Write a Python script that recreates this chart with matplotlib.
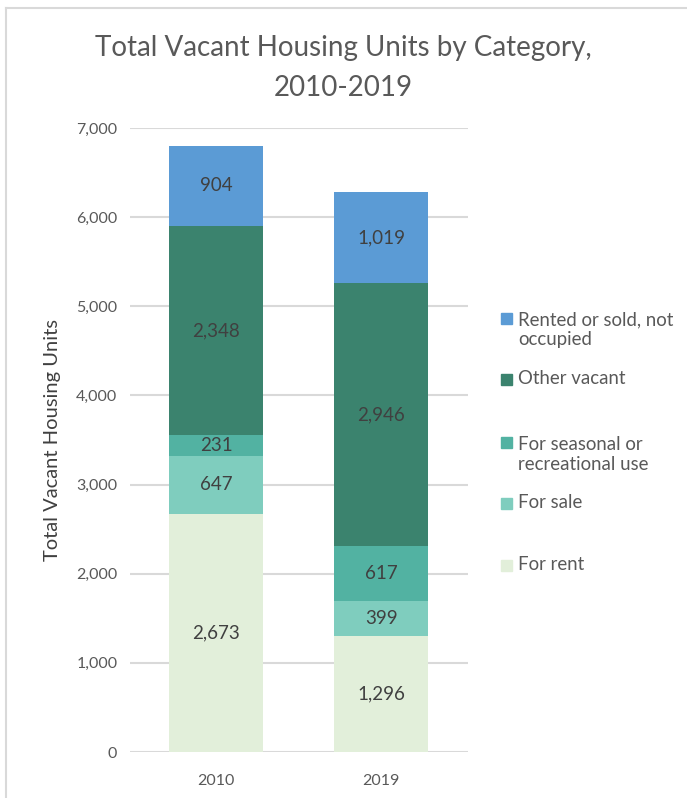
import matplotlib
matplotlib.use("Agg")
import matplotlib.pyplot as plt
from matplotlib.lines import Line2D
from matplotlib.patches import Rectangle
import numpy as np

plt.rcParams['font.family'] = ['Lato', 'DejaVu Sans']

# data
years = ['2010', '2019']
categories = ['For rent', 'For sale', 'For seasonal or\nrecreational use',
              'Other vacant', 'Rented or sold, not\noccupied']
for_rent = [2673, 1296]
for_sale = [647, 399]
seasonal = [231, 617]
other_vacant = [2348, 2946]
rented_sold = [904, 1019]
series = [for_rent, for_sale, seasonal, other_vacant, rented_sold]
colors = ['#E2EFDA', '#7FCDBE', '#52B2A2', '#3B836E', '#5B9BD5']

W, H = 687, 798
fig = plt.figure(figsize=(W / 100, H / 100), dpi=100)
ax = fig.add_axes([0.189, 0.0576, 0.492, 0.782])

x = np.arange(len(years))
bottom = np.zeros(len(years))
for vals, c in zip(series, colors):
    bars = ax.bar(x, vals, 0.57, bottom=bottom, color=c, zorder=3)
    for b, v, y0 in zip(bars, vals, bottom):
        ax.text(b.get_x() + b.get_width() / 2, y0 + v / 2, f"{v:,}",
                ha='center', va='center', fontsize=13.5, color='#404040', zorder=4)
    bottom += np.array(vals)

ax.set_xlim(-0.524, 1.524)
ax.set_ylim(0, 7000)
ax.set_yticks(range(0, 7001, 1000))
ax.yaxis.set_major_formatter(matplotlib.ticker.FuncFormatter(lambda v, p: f"{int(v):,}"))
ax.set_xticks(x)
ax.set_xticklabels(years)
ax.tick_params(length=0, labelsize=11.5, labelcolor='#595959')
ax.tick_params(axis='y', pad=9)
ax.tick_params(axis='x', pad=16)
ax.grid(axis='y', color='#D9D9D9', lw=1.5, zorder=0)
for s in ax.spines.values():
    s.set_visible(False)

ax.set_ylabel('Total Vacant Housing Units', fontsize=14.5, color='#404040', labelpad=11)

fig.suptitle('Total Vacant Housing Units by Category,\n2010-2019', fontsize=20,
             color='#595959', y=0.956, linespacing=1.66)

# legend drawn by hand, top entry first (like Excel)
leg_y = [318.5, 379.5, 442.5, 503.5, 565.5]
line_px = 22
for name, c, yp in zip(categories[::-1], colors[::-1], leg_y):
    fig.add_artist(Rectangle((501 / W, 1 - (yp + 5.5) / H), 11 / W, 11 / H,
                             color=c, transform=fig.transFigure))
    n_extra = name.count('\n')
    fig.text(518 / W, 1 - (yp + 5 + n_extra * line_px) / H, name, fontsize=13.4,
             color='#595959', va='baseline', ha='left', linespacing=1.2)

# chart area border (left and top)
fig.add_artist(Line2D([6 / W, 6 / W], [0, 1 - 8 / H], color='#D9D9D9', lw=1.5,
                      transform=fig.transFigure))
fig.add_artist(Line2D([6 / W, 1], [1 - 8 / H, 1 - 8 / H], color='#D9D9D9', lw=1.5,
                      transform=fig.transFigure))

fig.savefig('out.png', dpi=100)
